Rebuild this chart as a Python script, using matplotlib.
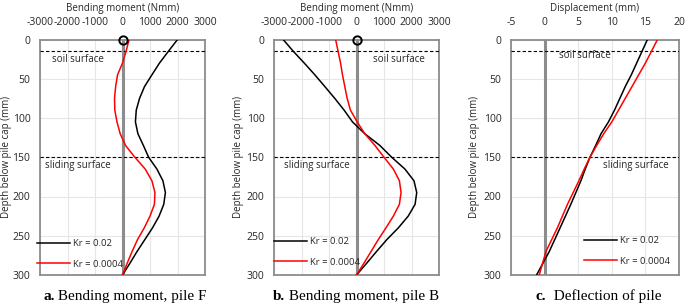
import matplotlib
matplotlib.use("Agg")
import matplotlib.pyplot as plt
import numpy as np

plt.rcParams['font.family'] = ['Open Sans', 'DejaVu Sans']
plt.rcParams['axes.unicode_minus'] = False

depth = [0, 15, 30, 45, 60, 75, 90, 105, 120, 135, 150, 165, 180, 195, 210, 225, 240, 255, 270, 285, 300]

# Panel a: bending moment pile F (Nmm)
mF_kr002 = [2000, 1670, 1345, 1070, 800, 620, 500, 470, 560, 760, 950, 1250, 1470, 1560, 1500, 1330, 1090, 810, 530, 270, 0]
mF_kr00004 = [240, 130, 0, -180, -250, -290, -280, -200, -85, 110, 450, 825, 1070, 1180, 1160, 1000, 790, 545, 350, 170, 0]

# Panel b: bending moment pile B (Nmm)
mB_kr002 = [-2667, -2300, -1900, -1515, -1150, -790, -450, -145, 300, 850, 1280, 1760, 2090, 2190, 2130, 1880, 1520, 1100, 730, 370, 0]
mB_kr00004 = [-760, -670, -580, -510, -425, -340, -220, 25, 300, 670, 1000, 1340, 1560, 1620, 1560, 1340, 1070, 790, 530, 270, 0]

# Panel c: deflection (mm)
d_kr002 = [15.3, 14.5, 13.7, 12.9, 12.0, 11.2, 10.4, 9.5, 8.4, 7.6, 6.75, 6.05, 5.4, 4.65, 3.9, 3.1, 2.3, 1.5, 0.7, -0.25, -1.2]
d_kr00004 = [16.8, 15.9, 15.0, 14.0, 13.0, 12.0, 11.0, 10.0, 8.8, 7.75, 6.75, 5.9, 5.1, 4.25, 3.4, 2.65, 1.9, 1.05, 0.2, -0.3, -0.8]

labels = ["Kr = 0.02", "Kr = 0.0004"]
yticks = [0, 50, 100, 150, 200, 250, 300]
mticks = [-3000, -2000, -1000, 0, 1000, 2000, 3000]
dticks = [-5, 0, 5, 10, 15, 20]

W, H = 685, 307
fig = plt.figure(figsize=(W / 100, H / 100), dpi=100)

def px_axes(l, r, t=39.5, b=275):
    return fig.add_axes([l / W, 1 - b / H, (r - l) / W, (b - t) / H])

axA = px_axes(40, 205)
axB = px_axes(274, 439)
axC = px_axes(511, 679)

spine_c = '#8C8C8C'
grid_c = '#E6E6E6'
fs = 7.5
txt_c = '#262626'

def style(ax, xlim, xticks, xlabel, ylab_x):
    ax.set_xlim(*xlim)
    ax.set_ylim(300, 0)
    ax.set_xticks(xticks)
    ax.set_yticks(yticks)
    ax.xaxis.tick_top()
    ax.xaxis.set_label_position('top')
    ax.tick_params(axis='both', length=0, labelsize=fs, colors=txt_c)
    ax.tick_params(axis='x', pad=8)
    ax.tick_params(axis='y', pad=7)
    ax.grid(True, color=grid_c, lw=0.8)
    ax.set_axisbelow(True)
    for s in ax.spines.values():
        s.set_color(spine_c)
        s.set_linewidth(1.3)
    ax.set_xlabel(xlabel, fontsize=7, color=txt_c)
    ax.xaxis.set_label_coords(0.5, 1 + (39.5 - 8) / 235.5)
    ax.xaxis.label.set_va('center')
    ax.set_ylabel("Depth below pile cap (mm)", fontsize=7, color=txt_c)
    ax.yaxis.set_label_coords(ylab_x, 0.5)
    ax.yaxis.label.set_va('center')
    ax.axhline(15, color='black', lw=0.8, ls=(0, (3, 2)), zorder=3)
    ax.axhline(150, color='black', lw=0.8, ls=(0, (3, 2)), zorder=3)
    ax.axvline(0, color='#8C8C8C', lw=2.2, zorder=2)

style(axA, (-3000, 3000), mticks, "Bending moment (Nmm)", -0.2)
style(axB, (-3000, 3000), mticks, "Bending moment (Nmm)", -0.215)
style(axC, (-5, 20), dticks, "Displacement (mm)", -0.22)

def curves(ax, s1, s2, leg_x, leg_y, circle=True):
    l1, = ax.plot(s1, depth, color='black', lw=1.1, zorder=4, label=labels[0])
    l2, = ax.plot(s2, depth, color='#FF0000', lw=1.1, zorder=4, label=labels[1])
    if circle:
        ax.plot([0], [0], 'o', ms=6, mfc='none', mec='black', mew=1.4, zorder=5, clip_on=False)
    leg = ax.legend(handles=[l1, l2], loc='center left', bbox_to_anchor=(leg_x, leg_y),
                    frameon=False, fontsize=6.8, handlelength=3.5, handletextpad=0.3,
                    labelspacing=1.2, borderpad=0, borderaxespad=0)
    for t in leg.get_texts():
        t.set_color(txt_c)

curves(axA, mF_kr002, mF_kr00004, -0.018, 0.089)
curves(axB, mB_kr002, mB_kr00004, 0.0, 0.098)
curves(axC, d_kr002, d_kr00004, 0.435, 0.102, circle=False)

tk = dict(fontsize=7, color=txt_c, va='center', ha='left', zorder=6)
axA.text(-2560, 26, "soil surface", **tk)
axA.text(-2820, 161, "sliding surface", **tk)
axB.text(590, 26, "soil surface", **tk)
axB.text(-2625, 161, "sliding surface", **tk)
axC.text(2.14, 20, "soil surface", **tk)
axC.text(8.7, 160, "sliding surface", **tk)

serif = ['Liberation Serif', 'DejaVu Serif']
def caption(ax, xpx, bold, rest):
    t1 = fig.text(xpx / W, 1 - 300 / H, bold, fontsize=11, fontweight='bold',
                  family=serif, va='baseline', ha='left')
    ax.annotate(rest, xy=(1, 0), xycoords=t1, va='bottom', ha='left',
                fontsize=11, family=serif, annotation_clip=False)

caption(axA, 43, "a.", " Bending moment, pile F")
caption(axB, 273, "b.", " Bending moment, pile B")
caption(axC, 535, "c.", "  Deflection of pile")

fig.savefig("out.png", dpi=100)
